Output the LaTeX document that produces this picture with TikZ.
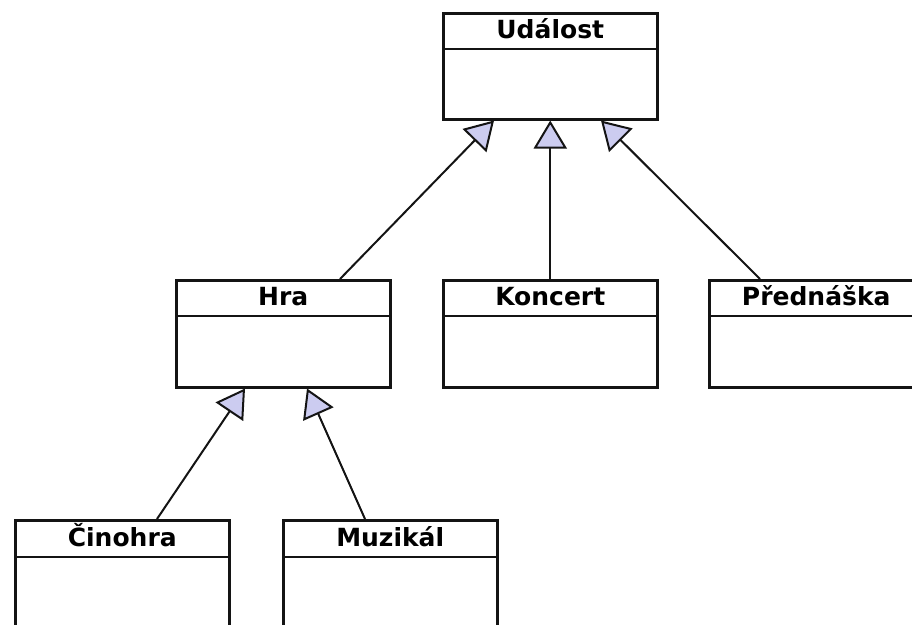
\documentclass[tikz,border=0pt]{standalone}
\usepackage{fontspec}
\setmainfont{DejaVu Sans}
\usetikzlibrary{arrows.meta,calc}
\definecolor{arrowfill}{RGB}{204,204,240}
\definecolor{linecol}{RGB}{20,20,20}
\begin{document}
\begin{tikzpicture}[x=1pt,y=-1pt,
  cls/.style={draw=linecol,line width=2.5pt,fill=white,rectangle,inner sep=0pt,minimum width=214pt,anchor=north west},
  title/.style={font=\bfseries\fontsize{25}{25}\selectfont,inner sep=0pt,anchor=base},
  hdr/.style={draw=linecol,line width=2.5pt},
  inh/.style={draw=linecol,line width=2pt,-{Triangle[length=28pt,width=33pt,fill=arrowfill]}}]
\useasboundingbox (0,0) rectangle (912,624);
\clip (0,0) rectangle (912,624);
% classes
\node[cls,minimum height=106pt] (u) at (442,12) {};
\node[cls,minimum height=107pt] (hra) at (175,279) {};
\node[cls,minimum height=107pt] (k) at (442,279) {};
\node[cls,minimum height=107pt] (p) at (708,279) {};
\node[cls,minimum height=130pt] (c) at (14,519) {};
\node[cls,minimum height=130pt] (m) at (282,519) {};
% header separators
\foreach \n/\h in {u/37,hra/37,k/37,p/37,c/38,m/38}{
  \draw[hdr] ($(\n.north west)+(0,\h)$) -- ($(\n.north east)+(0,\h)$);
}
% titles
\node[title] (ut) at ($(u.north)+(0,26)$) {Událost};
\node[title] (hrat) at ($(hra.north)+(0,26)$) {Hra};
\node[title] (kt) at ($(k.north)+(0,26)$) {Koncert};
\node[title] (pt) at ($(p.north)+(0,26)$) {Přednáška};
\node[title] (ct) at ($(c.north)+(0,27)$) {Činohra};
\node[title] (mt) at ($(m.north)+(0,27)$) {Muzikál};
% generalisations
\draw[inh] ($(hra.north west)+(165,0)$) -- ($(u.south west)+(52,0)$);
\draw[inh] (k.north) -- (u.south);
\draw[inh] ($(p.north west)+(52,0)$) -- ($(u.south west)+(159,0)$);
\draw[inh] ($(c.north west)+(143,0)$) -- ($(hra.south west)+(70,0)$);
\draw[inh] ($(m.north west)+(83,0)$) -- ($(hra.south west)+(132,0)$);
\end{tikzpicture}
\end{document}
